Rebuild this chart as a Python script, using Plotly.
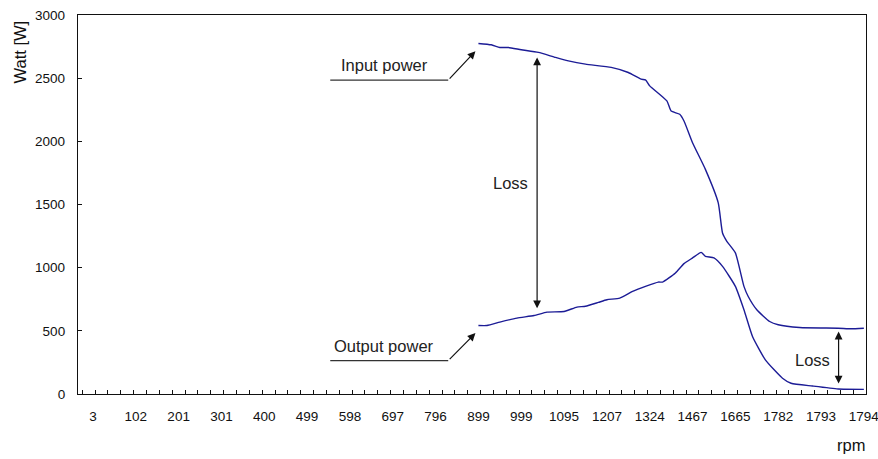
import plotly.graph_objects as go

# Category axis labels (rpm), one label every 10 categories
rpm_labels = ["3", "102", "201", "301", "400", "499", "598", "697", "796", "899",
              "999", "1095", "1207", "1324", "1467", "1665", "1782", "1793", "1794"]

# Input power [W] by category index
input_cat = [93, 96, 98, 100, 103, 107, 111, 114, 118, 124, 128, 131, 132, 133,
             137, 138, 140, 141, 143, 146, 149, 150, 151, 153, 155, 156, 158,
             161, 163, 168, 177, 180, 183]
input_w = [2775, 2764, 2743, 2743, 2725, 2704, 2664, 2637, 2611, 2585, 2545, 2492,
           2487, 2439, 2320, 2240, 2214, 2161, 1989, 1778, 1513, 1275, 1209, 1117,
           852, 772, 667, 574, 548, 526, 521, 516, 521]

# Output power [W] by category index
output_cat = [93, 95, 98, 102, 106, 109, 113, 116, 118, 121, 123, 126, 129, 132,
              135, 136, 139, 141, 143, 145, 146, 148, 150, 153, 155, 157, 160,
              164, 166, 171, 177, 183]
output_w = [542, 542, 569, 601, 621, 648, 653, 688, 695, 725, 746, 759, 812, 852,
            886, 886, 958, 1032, 1077, 1121, 1090, 1077, 1010, 852, 667, 455, 270,
            125, 85, 63, 40, 37]

N_CAT = 184
FONT = "Liberation Sans, Arial, sans-serif"
LINE = "#1c1c96"
W, H = 878, 459
M_L, M_R, M_T, M_B = 78, 12, 15, 65
PW, PH = W - M_L - M_R, H - M_T - M_B

label_pos = [3 + 10 * i for i in range(len(rpm_labels))]

fig = go.Figure()
fig.add_trace(go.Scatter(x=input_cat, y=input_w, mode="lines", name="Input power",
                         line=dict(color=LINE, width=1.4, shape="spline", smoothing=0.5)))
fig.add_trace(go.Scatter(x=output_cat, y=output_w, mode="lines", name="Output power",
                         line=dict(color=LINE, width=1.4, shape="spline", smoothing=0.5)))

txt = dict(family=FONT, size=16.5, color="#222")
ann = []

# Leader lines with arrows for the two series names
for y_lead, tip_y, label, label_y in [(2484, 2714, "Input power", 2603),
                                       (264, 482, "Output power", 381)]:
    fig.add_shape(type="line", x0=58.4, x1=85.95, y0=y_lead, y1=y_lead,
                  xref="x", yref="y", line=dict(color="#333", width=1.2))
    ann.append(dict(x=92.3, y=tip_y, ax=85.95, ay=y_lead, xref="x", yref="y",
                    axref="x", ayref="y", text="", showarrow=True, arrowhead=2,
                    arrowsize=1.3, arrowwidth=1.2, arrowcolor="#111"))
    ann.append(dict(x=71.0, y=label_y, xref="x", yref="y", text=label,
                    showarrow=False, font=txt))

# Loss double arrows
for xc, y_top, y_bot, lx, ly in [(106.7, 2664, 667, 100.4, 1667),
                                  (177.1, 494, 71, 170.9, 270)]:
    ann.append(dict(x=xc, y=y_top, ax=xc, ay=y_bot, xref="x", yref="y",
                    axref="x", ayref="y", text="", showarrow=True, arrowhead=2,
                    arrowside="end+start", arrowsize=1.3, arrowwidth=1.2,
                    arrowcolor="#111"))
    ann.append(dict(x=lx, y=ly, xref="x", yref="y", text="Loss",
                    showarrow=False, font=txt))


def to_paper(px, py):
    return (px - M_L) / PW, (H - M_B - py) / PH


# Axis titles placed in pixel terms relative to the plot area
tx, ty = to_paper(19, 52.5)
ann.append(dict(x=tx, y=ty, xref="paper", yref="paper", text="Watt [W]",
                xanchor="center", yanchor="middle",
                textangle=-90, showarrow=False,
                font=dict(family=FONT, size=16.5, color="#111")))
rx, ry = to_paper(851, 445)
ann.append(dict(x=rx, y=ry, xref="paper", yref="paper", text="rpm",
                xanchor="center", yanchor="middle",
                showarrow=False, font=dict(family=FONT, size=16.5, color="#111")))

fig.update_layout(
    width=W, height=H,
    margin=dict(l=M_L, r=M_R, t=M_T, b=M_B, autoexpand=False),
    paper_bgcolor="white", plot_bgcolor="white",
    showlegend=False,
    annotations=ann,
    font=dict(family=FONT, size=13.5, color="#111"),
)

fig.update_xaxes(
    range=[-0.5, N_CAT - 0.5], showgrid=False, zeroline=False, automargin=False,
    showline=True, mirror=True, linecolor="#111", linewidth=1.3,
    tickmode="array", tickvals=label_pos, ticktext=rpm_labels, ticks="",
    ticklabelstandoff=10, ticklabeloverflow="allow",
    minor=dict(ticks="inside", tick0=0.5, dtick=3, ticklen=4, tickcolor="#111",
               tickwidth=1, showgrid=False),
)
fig.update_yaxes(
    range=[0, 3000], showgrid=False, zeroline=False, automargin=False,
    showline=True, mirror=True, linecolor="#111", linewidth=1.3,
    tickmode="array", tickvals=[0, 500, 1000, 1500, 2000, 2500, 3000],
    ticks="inside", ticklen=4, tickcolor="#111", ticklabelstandoff=9,
)

fig.write_html("out.html")
